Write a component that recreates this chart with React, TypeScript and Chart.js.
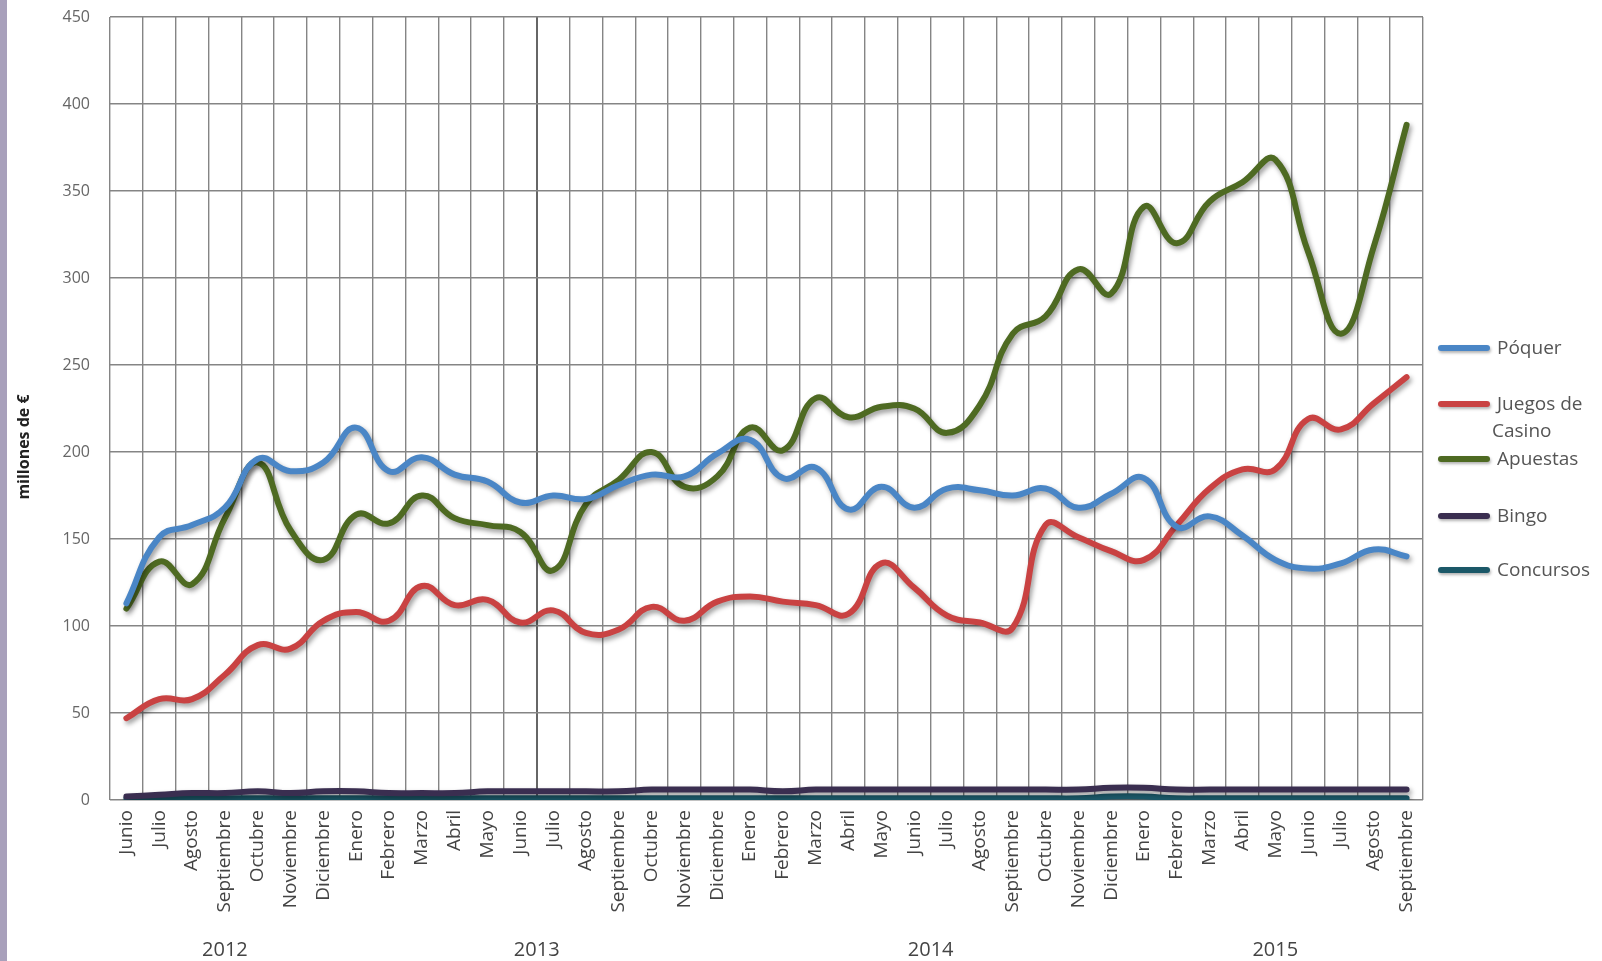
import React, { useEffect, useRef } from "react";
import { Chart, registerables } from "chart.js";

Chart.register(...registerables);

const months = [
  "Junio", "Julio", "Agosto", "Septiembre", "Octubre", "Noviembre", "Diciembre",
  "Enero", "Febrero", "Marzo", "Abril", "Mayo", "Junio", "Julio", "Agosto", "Septiembre", "Octubre", "Noviembre", "Diciembre",
  "Enero", "Febrero", "Marzo", "Abril", "Mayo", "Junio", "Julio", "Agosto", "Septiembre", "Octubre", "Noviembre", "Diciembre",
  "Enero", "Febrero", "Marzo", "Abril", "Mayo", "Junio", "Julio", "Agosto", "Septiembre",
];

const years = ["2012", "2013", "2014", "2015"];
const yearFirst = [0, 7, 19, 31];
const yearLast = [6, 18, 30, 39];

const poquer = [113, 151, 158, 168, 196, 189, 194, 214, 189, 197, 187, 183, 171, 175, 173, 181, 187, 186, 199, 207, 185, 191, 167, 180, 168, 179, 178, 175, 179, 168, 176, 185, 157, 163, 152, 138, 133, 136, 144, 140];
const juegosCasino = [47, 58, 58, 72, 89, 87, 103, 108, 103, 123, 112, 115, 102, 109, 96, 98, 111, 103, 114, 117, 114, 112, 107, 136, 122, 106, 102, 99, 158, 151, 143, 138, 158, 179, 190, 190, 219, 213, 228, 243];
const apuestas = [110, 137, 124, 162, 194, 155, 138, 164, 159, 175, 162, 158, 154, 132, 170, 184, 200, 180, 186, 214, 201, 231, 220, 226, 225, 211, 227, 268, 278, 305, 291, 341, 320, 344, 355, 368, 315, 268, 318, 388];
const bingo = [2, 3, 4, 4, 5, 4, 5, 5, 4, 4, 4, 5, 5, 5, 5, 5, 6, 6, 6, 6, 5, 6, 6, 6, 6, 6, 6, 6, 6, 6, 7, 7, 6, 6, 6, 6, 6, 6, 6, 6];
const concursos = [1, 1, 1, 1, 1, 1, 1, 1, 1, 1, 1, 1, 1, 1, 1, 1, 1, 1, 1, 1, 1, 1, 1, 1, 1, 1, 1, 1, 1, 1, 2, 2, 1, 1, 1, 1, 1, 1, 1, 1];

const seriesNames = ["Póquer", "Juegos de\nCasino", "Apuestas", "Bingo", "Concursos"];
const seriesColors = ["#4a86c6", "#c94242", "#4e6a22", "#3a2e50", "#1b5868"];
const seriesData = [poquer, juegosCasino, apuestas, bingo, concursos];
const legendY = [348, 404, 459, 516, 570];

const yTitle = "millones de €";

const FONT = "'Open Sans', 'Noto Sans', sans-serif";

const shadowPlugin = {
  id: "lineShadow",
  beforeDatasetDraw(chart: any) {
    const c = chart.ctx;
    c.save();
    c.shadowColor = "rgba(0,0,0,0.4)";
    c.shadowBlur = 5;
    c.shadowOffsetX = 2;
    c.shadowOffsetY = 3;
  },
  afterDatasetDraw(chart: any) {
    chart.ctx.restore();
  },
};

const extraTextPlugin = {
  id: "extraText",
  afterDraw(chart: any) {
    const c = chart.ctx;
    const xs = chart.scales.x;
    c.save();
    c.fillStyle = "#444";
    c.font = `20px ${FONT}`;
    c.textAlign = "center";
    c.textBaseline = "middle";
    years.forEach((y, i) => {
      const cx = (xs.getPixelForValue(yearFirst[i]) + xs.getPixelForValue(yearLast[i])) / 2;
      c.fillText(y, cx, 950);
    });
    c.translate(24, 447);
    c.rotate(-Math.PI / 2);
    c.font = `bold 16px ${FONT}`;
    c.fillStyle = "#222";
    c.fillText(yTitle, 0, 0);
    c.restore();
  },
};

export default function App() {
  const ref = useRef<HTMLCanvasElement | null>(null);

  useEffect(() => {
    if (!ref.current) return;
    const chart = new Chart(ref.current, {
      type: "line",
      data: {
        labels: months,
        datasets: seriesData.map((d, i) => ({
          label: seriesNames[i],
          data: d,
          borderColor: seriesColors[i],
          backgroundColor: seriesColors[i],
          borderWidth: 6,
          tension: 0.45,
          pointRadius: 0,
          borderCapStyle: "round",
          borderJoinStyle: "round",
          fill: false,
        })),
      },
      options: {
        animation: false,
        responsive: false,
        maintainAspectRatio: false,
        layout: { padding: { top: 17, right: 179, bottom: 0, left: 0 } },
        plugins: { legend: { display: false }, tooltip: { enabled: false } },
        scales: {
          x: {
            offset: true,
            grid: {
              offset: true,
              drawTicks: false,
              color: (ctx: any) => (ctx.index === 13 ? "#666" : "#858585"),
              lineWidth: (ctx: any) => (ctx.index === 13 ? 2 : 1.4),
            },
            border: { display: false },
            ticks: {
              autoSkip: false,
              maxRotation: 90,
              minRotation: 90,
              padding: 10,
              color: "#444",
              font: { family: FONT, size: 19 },
            },
            afterFit: (s: any) => {
              s.height = 161;
            },
          },
          y: {
            min: 0,
            max: 450,
            ticks: {
              stepSize: 50,
              padding: 20,
              color: "#666",
              font: { family: FONT, size: 16 },
            },
            grid: { drawTicks: false, color: "#858585", lineWidth: 1.4 },
            border: { display: false },
            afterFit: (s: any) => {
              s.width = 110;
              s.paddingTop = 0;
              s.paddingBottom = 0;
            },
          },
        },
      },
      plugins: [shadowPlugin, extraTextPlugin],
    } as any);
    return () => chart.destroy();
  }, []);

  return (
    <div style={{ position: "fixed", left: 0, top: 0, width: 1602, height: 961, background: "#fff", overflow: "hidden" }}>
      <div style={{ position: "absolute", left: 0, top: 0, width: 7, height: 961, background: "#a8a0bb" }} />
      <canvas ref={ref} width={1602} height={961} style={{ position: "absolute", left: 0, top: 0, width: 1602, height: 961 }} />
      {seriesNames.map((n, i) => (
        <React.Fragment key={i}>
          <div
            style={{
              position: "absolute",
              left: 1438,
              top: legendY[i] - 3,
              width: 52,
              height: 6,
              borderRadius: 3,
              background: seriesColors[i],
              boxShadow: "1px 2px 3px rgba(0,0,0,0.3)",
            }}
          />
          <div
            style={{
              position: "absolute",
              left: i === 1 ? 1492 : 1497,
              top: legendY[i] - 14,
              fontFamily: FONT,
              fontSize: 19,
              lineHeight: "27px",
              color: "#555",
              whiteSpace: "pre-line",
              textIndent: i === 1 ? 5 : 0,
            }}
          >
            {n}
          </div>
        </React.Fragment>
      ))}
    </div>
  );
}
